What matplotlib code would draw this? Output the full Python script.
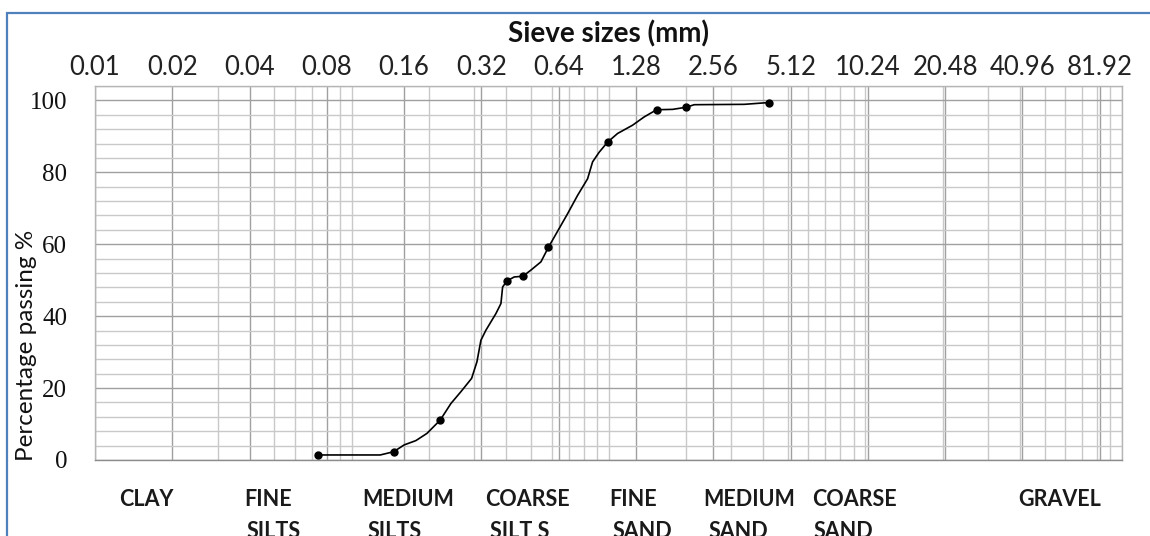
import matplotlib
matplotlib.use("Agg")
import matplotlib.pyplot as plt
from matplotlib.ticker import FixedLocator, NullFormatter
from matplotlib.patches import Rectangle

# measured sieve points (mm, % passing)
sieve_mm = [0.0741, 0.1456, 0.2211, 0.402, 0.464, 0.583, 0.992, 1.54, 2.01, 4.21]
passing_pct = [1.4, 2.3, 11.1, 49.8, 51.1, 59.1, 88.4, 97.4, 98.1, 99.4]

# hand-drawn grading curve
curve_mm = [0.0741, 0.1291, 0.1456, 0.1601, 0.1778, 0.1963, 0.2211, 0.2433,
            0.2662, 0.2930, 0.3073, 0.3185, 0.3331, 0.3642, 0.3811, 0.3869,
            0.402, 0.4294, 0.464, 0.4986, 0.5455, 0.583, 0.6427, 0.6931,
            0.7580, 0.8290, 0.8670, 0.9200, 0.992, 1.085, 1.241, 1.377,
            1.54, 1.777, 2.01, 2.157, 3.376, 4.21]
curve_pct = [1.4, 1.4, 2.3, 4.2, 5.4, 7.4, 11.1, 15.7,
             19.0, 22.7, 27.3, 33.3, 36.1, 40.7, 43.5, 48.1,
             49.8, 50.9, 51.1, 52.8, 55.1, 59.1, 64.4, 68.5,
             73.6, 78.2, 82.9, 85.6, 88.4, 90.8, 93.1, 95.4,
             97.4, 97.5, 98.1, 98.8, 98.9, 99.4]

x_tick_labels = ["0.01", "0.02", "0.04", "0.08", "0.16", "0.32", "0.64", "1.28",
                 "2.56", "5.12", "10.24", "20.48", "40.96", "81.92"]
y_ticks = [0, 20, 40, 60, 80, 100]

zone_top = ["CLAY", "FINE", "MEDIUM", "COARSE", "FINE", "MEDIUM", "COARSE", "GRAVEL"]
zone_bottom = ["", "SILTS", "SILTS", "SILT S", "SAND", "SAND", "SAND", ""]

# left edges of the zone texts in pixels (line 1, line 2)
zone_x1 = [119, 244, 362, 485, 609, 703, 812, 1018]
zone_x2 = [119, 247, 368, 490, 613, 709, 814, 1018]

W, H = 1150, 536
fig = plt.figure(figsize=(W / 100, H / 100), dpi=100)
ax = fig.add_axes([95 / W, (H - 460) / H, (1122 - 95) / W, (460 - 86) / H])

ax.set_xscale("log")
ax.set_xlim(0.01, 100)
ax.set_ylim(0, 104)

major_x = [float(s) for s in x_tick_labels]
minor_x = [m * 10.0 ** e for e in (-2, -1, 0, 1) for m in range(1, 10)] + [100.0]
ax.xaxis.set_major_locator(FixedLocator(major_x))
ax.xaxis.set_minor_locator(FixedLocator(minor_x))
ax.xaxis.set_minor_formatter(NullFormatter())
ax.set_xticklabels(x_tick_labels)
ax.yaxis.set_major_locator(FixedLocator(y_ticks))
ax.yaxis.set_minor_locator(FixedLocator(list(range(0, 105, 4))))

ax.xaxis.set_ticks_position("top")
ax.tick_params(axis="x", which="both", length=0, labeltop=True, labelbottom=False, pad=4)
ax.tick_params(axis="y", which="both", length=0, pad=20)
for lab in ax.get_xticklabels():
    lab.set_fontfamily("Lato")
    lab.set_fontsize(18.5)
    lab.set_color("#222222")
for lab in ax.get_yticklabels():
    lab.set_fontfamily("Liberation Serif")
    lab.set_fontsize(18)
    lab.set_color("#111111")

ax.grid(which="minor", color="#c9c9c9", lw=1.0)
ax.grid(which="major", color="#a0a0a0", lw=1.0)
ax.set_axisbelow(True)
for sp in ax.spines.values():
    sp.set_color("#b5b5b5")
    sp.set_linewidth(1.0)
ax.spines["bottom"].set_color("#8c8c8c")

ax.plot(curve_mm, curve_pct, color="black", lw=1.2, zorder=3)
ax.plot(sieve_mm, passing_pct, ls="none", marker="o", ms=5, color="black", zorder=4)

fig.text(609 / W, 1 - 34 / H, "Sieve sizes (mm)", ha="center", va="center",
         fontsize=20, fontweight="bold", family="Lato", color="#111111")
fig.text(27 / W, 1 - 345 / H, "Percentage passing %", rotation=90, ha="center",
         va="center", fontsize=17.5, family="Lato", color="#111111")

for t1, t2, x1, x2 in zip(zone_top, zone_bottom, zone_x1, zone_x2):
    fig.text(x1 / W, 1 - 500 / H, t1, ha="left", va="center", fontsize=15.5,
             fontweight="bold", family="Lato", color="#1a1a1a")
    if t2:
        fig.text(x2 / W, 1 - 531 / H, t2, ha="left", va="center", fontsize=15.5,
                 fontweight="bold", family="Lato", color="#1a1a1a")

# blue frame around the picture
fig.patches.append(Rectangle((7 / W, -0.1), 1.2, (H - 13) / H + 0.1,
                             transform=fig.transFigure, fill=False,
                             edgecolor="#4f81bd", lw=1.6))

fig.savefig("out.png", dpi=100)
